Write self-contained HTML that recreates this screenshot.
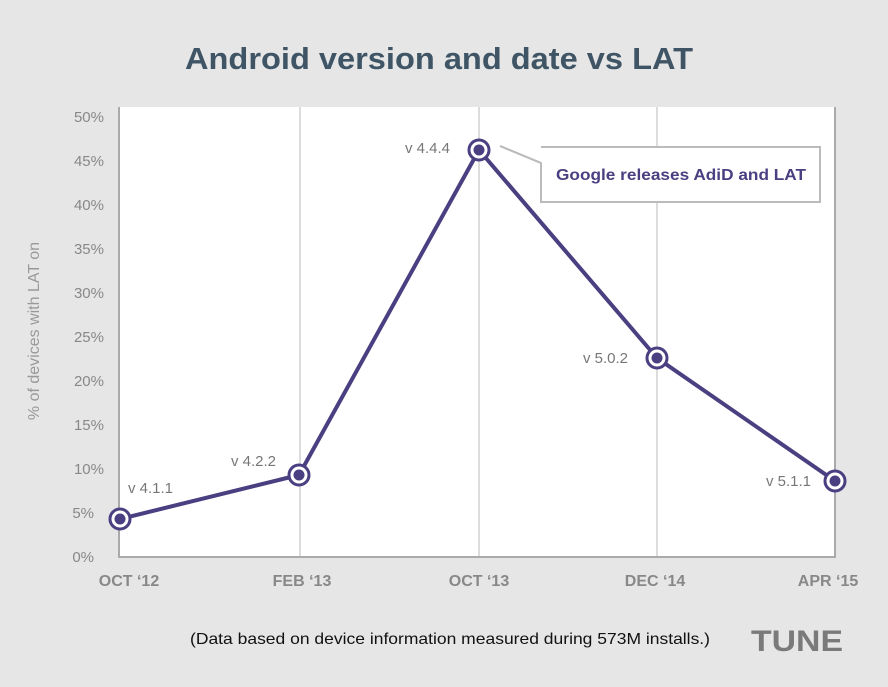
<!DOCTYPE html>
<html><head><style>
body{margin:0;width:888px;height:687px;background:#e6e6e6;overflow:hidden}
svg{display:block}
text{font-family:"Liberation Sans",sans-serif}
</style></head><body>
<svg width="888" height="687" viewBox="0 0 888 687">
<rect width="888" height="687" fill="#e6e6e6"/>
<text x="185" y="69" textLength="508" lengthAdjust="spacingAndGlyphs" font-size="31" font-weight="bold" fill="#3f5566">Android version and date vs LAT</text>
<rect x="119" y="107" width="716" height="450" fill="#fff"/>
<g stroke="#dcdcdc" stroke-width="2">
<line x1="300" y1="107" x2="300" y2="557"/>
<line x1="479" y1="107" x2="479" y2="557"/>
<line x1="657" y1="107" x2="657" y2="557"/>
</g>
<path d="M119 107V557H835V107" fill="none" stroke="#aaa" stroke-width="2"/>
<g font-size="15" fill="#888" text-anchor="end">
<text x="104" y="122">50%</text><text x="104" y="166">45%</text><text x="104" y="210">40%</text>
<text x="104" y="254">35%</text><text x="104" y="298">30%</text><text x="104" y="342">25%</text>
<text x="104" y="386">20%</text><text x="104" y="430">15%</text><text x="104" y="474">10%</text>
<text x="94" y="518">5%</text><text x="94" y="562">0%</text>
</g>
<text transform="translate(39 331) rotate(-90)" text-anchor="middle" font-size="16" fill="#999">% of devices with LAT on</text>
<g font-size="16" font-weight="bold" fill="#888" text-anchor="middle">
<text x="129" y="586">OCT ‘12</text><text x="302" y="586">FEB ‘13</text><text x="479" y="586">OCT ‘13</text>
<text x="655" y="586">DEC ‘14</text><text x="828" y="586">APR ‘15</text>
</g>
<path d="M500 146L541 163V202H820V147H541" fill="#fff" stroke="#bbb" stroke-width="2"/>
<path d="M500 146L541 163" stroke="#bbb" stroke-width="2"/>
<text x="556" y="180" textLength="250" lengthAdjust="spacingAndGlyphs" font-size="16" font-weight="bold" fill="#4a3f80">Google releases AdiD and LAT</text>
<polyline points="120,519 299,475 479,150 657,358 835,481" fill="none" stroke="#4a3f80" stroke-width="4" stroke-linejoin="round"/>
<g fill="#fff" stroke="#4a3f80" stroke-width="3">
<circle cx="120" cy="519" r="10"/><circle cx="299" cy="475" r="10"/><circle cx="479" cy="150" r="10"/><circle cx="657" cy="358" r="10"/><circle cx="835" cy="481" r="10"/>
</g>
<g fill="#4a3f80">
<circle cx="120" cy="519" r="5.5"/><circle cx="299" cy="475" r="5.5"/><circle cx="479" cy="150" r="5.5"/><circle cx="657" cy="358" r="5.5"/><circle cx="835" cy="481" r="5.5"/>
</g>
<g font-size="15" fill="#777">
<text x="128" y="493">v 4.1.1</text><text x="231" y="466">v 4.2.2</text><text x="405" y="153">v 4.4.4</text>
<text x="583" y="363">v 5.0.2</text><text x="766" y="486">v 5.1.1</text>
</g>
<text x="190" y="644" textLength="520" lengthAdjust="spacingAndGlyphs" font-size="16" fill="#111">(Data based on device information measured during 573M installs.)</text>
<text x="751" y="651" textLength="92" lengthAdjust="spacingAndGlyphs" font-size="30" font-weight="bold" fill="#7a7a7a">TUNE</text>
</svg>
</body></html>
